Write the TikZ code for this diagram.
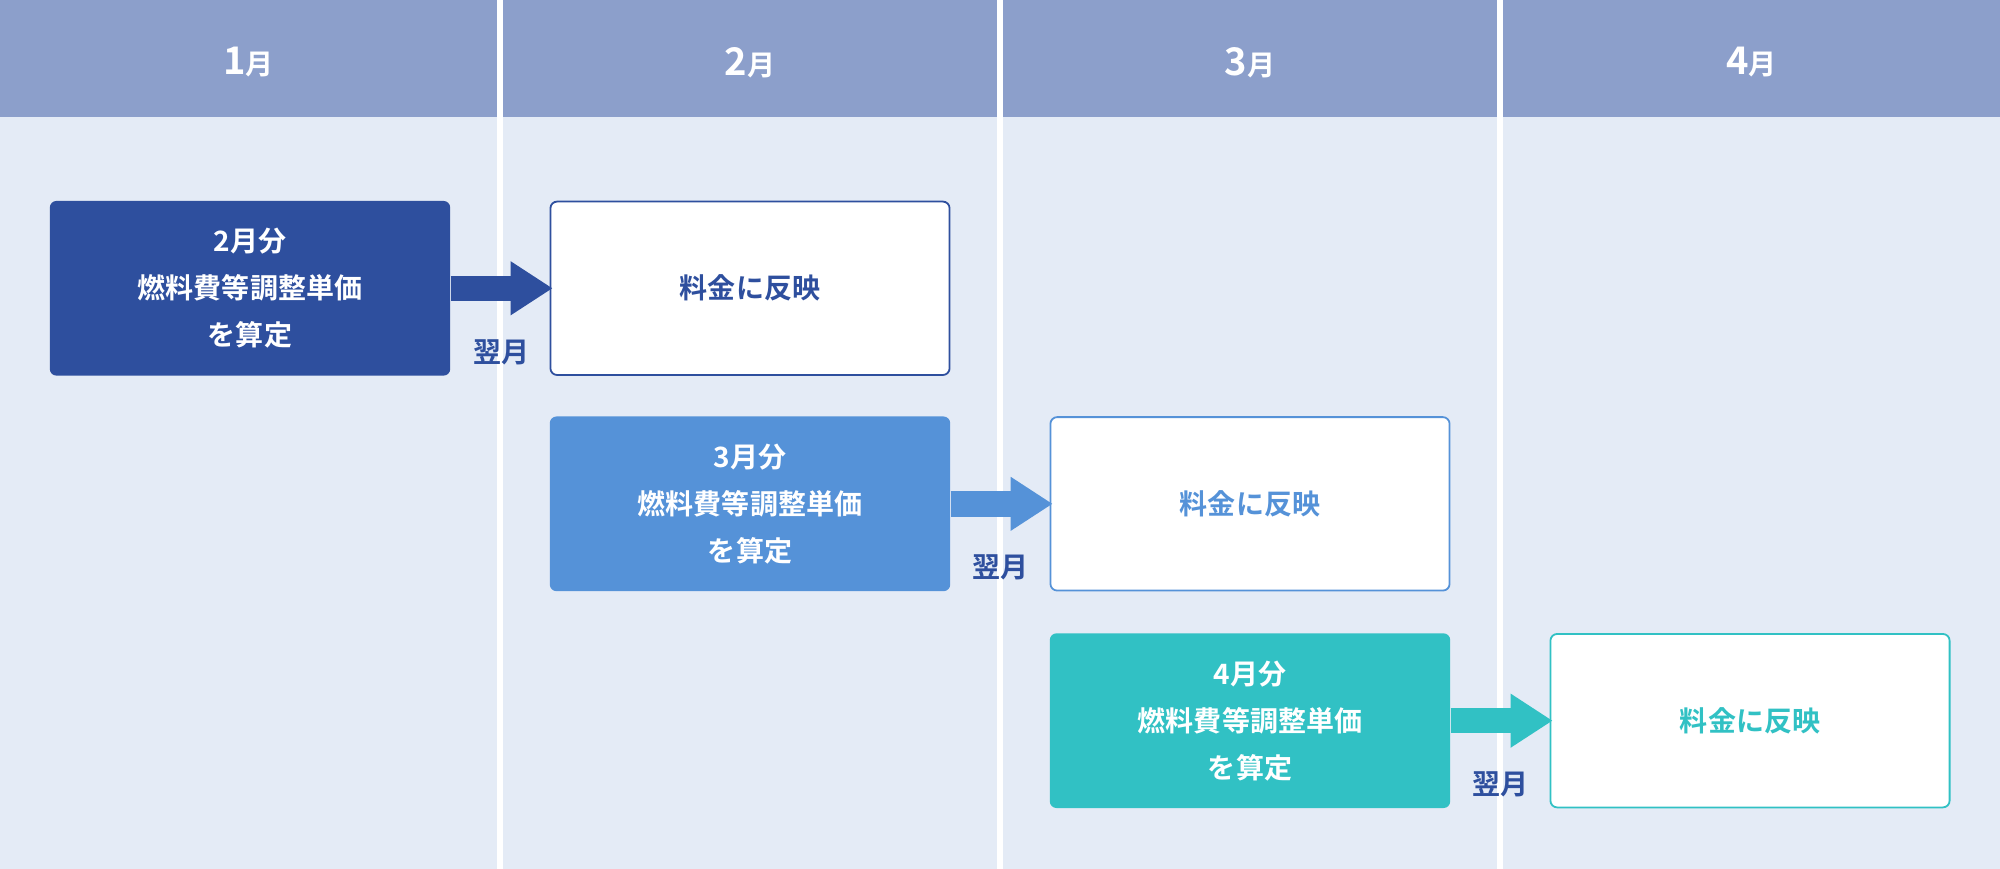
\documentclass[tikz,border=0pt]{standalone}
\usepackage{fontspec}
\setmainfont{Noto Sans CJK JP}[BoldFont={* Bold}]
\usetikzlibrary{arrows.meta}
\definecolor{hdr}{HTML}{8C9FCB}
\definecolor{bodyc}{HTML}{E4EBF6}
\definecolor{cA}{HTML}{2E4F9E}
\definecolor{cB}{HTML}{5592D8}
\definecolor{cC}{HTML}{31C1C4}
\tikzset{
 calc/.style={fill=#1, rounded corners=3pt, minimum width=6.28cm, minimum height=2.74cm, text=white, font=\bfseries\fontsize{12.5}{21}\selectfont, align=center, inner sep=0pt},
 refl/.style={draw=#1, line width=0.8pt, fill=white, rounded corners=3pt, minimum width=6.26cm, minimum height=2.72cm, text=#1, font=\bfseries\fontsize{12.5}{15}\selectfont, inner sep=0pt},
 flow/.style={draw=#1, line width=0.4cm, -{Triangle[length=0.66cm,width=0.8cm]}, shorten >=-0.05cm},
 lbl/.style={text=cA, font=\bfseries\fontsize{12.5}{15}\selectfont, inner sep=0pt},
 mon/.style={text=white, font=\bfseries, inner sep=0pt}
}
\begin{document}
\begin{tikzpicture}[x=0.02cm,y=-0.02cm]
\useasboundingbox (0,0) rectangle (1568,681);
\fill[white] (0,0) rectangle (1568,681);
\foreach \a/\b/\m in {0/390/1,394/782/2,786/1174/3,1178/1568/4}{
 \fill[bodyc] (\a,92) rectangle (\b,681);
 \fill[hdr] (\a,0) rectangle (\b,92);
 \node[mon] (h\m) at ({(\a+\b)/2},49) {\fontsize{17}{20}\selectfont\m\fontsize{12.5}{15}\selectfont 月};
}
\node[calc=cA] (c1) at (196,226) {2月分\\燃料費等調整単価\\を算定};
\node[refl=cA] (r1) at (588,226) {料金に反映};
\node[calc=cB] (c2) at (588,395) {3月分\\燃料費等調整単価\\を算定};
\node[refl=cB] (r2) at (980,395) {料金に反映};
\node[calc=cC] (c3) at (980,565) {4月分\\燃料費等調整単価\\を算定};
\node[refl=cC] (r3) at (1372,565) {料金に反映};
\draw[flow=cA] (c1.east) -- (r1.west);
\draw[flow=cB] (c2.east) -- (r2.west);
\draw[flow=cC] (c3.east) -- (r3.west);
\node[lbl] (l1) at (393,276) {翌月};
\node[lbl] (l2) at (784,445) {翌月};
\node[lbl] (l3) at (1176,615) {翌月};
\end{tikzpicture}
\end{document}
